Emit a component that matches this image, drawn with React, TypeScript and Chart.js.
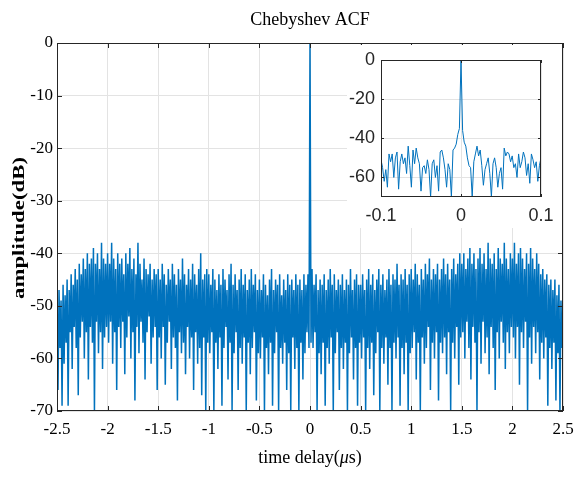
import React, { useEffect, useRef } from "react";
import { Chart, registerables } from "chart.js";
Chart.register(...registerables);

// ---------- texts ----------
const titleText = "Chebyshev ACF";
const xLabelParts = [
  { t: "time delay(", italic: false },
  { t: "\u03bc", italic: true },
  { t: "s)", italic: false },
];
const yLabelText = "amplitude(dB)";

// ---------- ticks ----------
const xTicks = [-2.5, -2, -1.5, -1, -0.5, 0, 0.5, 1, 1.5, 2, 2.5];
const yTicks = [0, -10, -20, -30, -40, -50, -60, -70];
const insetXTicks = [-0.1, 0, 0.1];
const insetYTicks = [0, -20, -40, -60];

// ---------- main series (dB), 0.01 us spacing, each segment 0.5 us ----------
const segStarts = [-2.5, -2.0, -1.5, -1.0, -0.5, 0.0, 0.5, 1.0, 1.5, 2.0];
const segStep = 0.01;
const ampM25 = [-52,-66,-47,-58,-49,-69,-46,-61,-48,-57,-45,-69,-47,-55,-44,-62,-46,-54,-43,-58,-45,-67,-42,-56,-44,
  -53,-41,-60,-43,-55,-40,-64,-42,-54,-41,-57,-39,-70,-42,-53,-40,-59,-43,-55,-38,-62,-41,-56,-42,-54];
const ampM20 = [-40,-57,-42,-53,-38,-61,-41,-55,-43,-66,-40,-54,-42,-58,-41,-53,-44,-63,-40,-56,-42,-52,-39,-60,-43,
  -55,-41,-68,-44,-54,-38,-59,-42,-53,-45,-57,-41,-64,-43,-55,-44,-52,-42,-61,-45,-56,-43,-54,-44,-66];
const ampM15 = [-43,-56,-45,-60,-42,-54,-44,-65,-46,-57,-43,-53,-45,-62,-42,-56,-44,-58,-46,-68,-43,-55,-45,-59,-41,
  -57,-44,-63,-46,-54,-43,-60,-45,-56,-42,-66,-44,-55,-46,-61,-43,-58,-40,-67,-45,-56,-44,-70,-43,-57];
const ampM10 = [-44,-59,-46,-55,-43,-70,-45,-57,-47,-62,-44,-56,-46,-69,-43,-58,-45,-54,-47,-64,-44,-57,-42,-70,-46,
  -59,-44,-55,-47,-66,-45,-58,-43,-61,-46,-56,-44,-70,-47,-57,-45,-63,-43,-58,-46,-55,-44,-68,-47,-59];
const ampM05 = [-45,-60,-47,-56,-44,-70,-46,-58,-48,-63,-45,-57,-43,-69,-47,-59,-45,-55,-46,-70,-44,-58,-48,-61,-45,
  -57,-47,-66,-44,-59,-46,-70,-45,-56,-47,-62,-44,-58,-46,-70,-45,-57,-47,-64,-44,-59,-46,-55,-44,-58];
const ampP00 = [0,-57,-43,-58,-46,-55,-44,-70,-47,-59,-45,-63,-46,-57,-44,-69,-47,-58,-45,-61,-43,-56,-46,-70,-44,
  -59,-47,-55,-45,-66,-46,-58,-44,-62,-47,-57,-45,-70,-46,-59,-43,-56,-47,-64,-45,-58,-44,-69,-46,-57];
const ampP05 = [-46,-60,-44,-56,-47,-70,-45,-58,-43,-62,-46,-57,-44,-67,-47,-59,-45,-55,-43,-70,-46,-58,-44,-61,-47,
  -56,-45,-65,-43,-58,-46,-70,-44,-57,-45,-60,-42,-56,-46,-69,-44,-58,-45,-63,-43,-57,-46,-70,-44,-59];
const ampP10 = [-43,-58,-45,-55,-42,-64,-44,-57,-46,-70,-43,-56,-45,-61,-42,-58,-44,-54,-41,-66,-45,-57,-43,-60,-44,
  -55,-42,-68,-45,-57,-43,-59,-41,-56,-44,-63,-42,-55,-45,-70,-43,-57,-41,-60,-44,-54,-42,-65,-40,-56];
const ampP15 = [-42,-55,-40,-60,-43,-53,-41,-58,-39,-64,-42,-54,-40,-57,-43,-70,-41,-55,-39,-61,-42,-53,-40,-59,-43,
  -56,-38,-63,-41,-54,-42,-58,-40,-66,-43,-55,-39,-60,-41,-53,-42,-57,-38,-62,-41,-55,-43,-59,-40,-54];
const ampP20 = [-41,-56,-38,-60,-42,-54,-40,-65,-39,-55,-41,-58,-43,-53,-40,-70,-42,-56,-39,-61,-41,-54,-43,-59,-40,
  -55,-42,-64,-44,-57,-43,-60,-45,-56,-44,-69,-46,-58,-45,-62,-47,-57,-45,-68,-48,-59,-46,-70,-49,-58,-52];
const mainSegments = [ampM25, ampM20, ampM15, ampM10, ampM05, ampP00, ampP05, ampP10, ampP15, ampP20];

// ---------- inset series (dB), 0.002 us spacing ----------
const insetStep = 0.002;
const insetLeft = [-51,-55,-62,-56,-65,-48,-52,-48,-60,-50,-47,-66,-52,-48,-53,-50,-58,-44,-54,-65,
  -46,-53,-45,-50,-53,-67,-55,-54,-58,-51,-56,-70,-53,-51,-60,-54,-67,-47,-46,-50,
  -56,-65,-53,-56,-70,-46,-45,-43,-38,-35]; // t = -0.100 .. -0.002
const insetPeak = [0]; // t = 0
const insetRight = [-36,-42,-44,-50,-54,-55,-70,-52,-48,-44,-49,-46,-54,-64,-56,-53,-50,-58,-70,-53,
  -50,-55,-65,-58,-55,-66,-45,-49,-47,-48,-52,-49,-55,-53,-60,-48,-55,-52,-47,-50,
  -59,-53,-63,-48,-51,-55,-52,-62,-54,-50]; // t = 0.002 .. 0.100

const LINE = "#0072BD";
const AXIS = "#262626";
const GRID = "#e3e3e3";
const SERIF = "'Liberation Serif', 'DejaVu Serif', serif";
const SANS = "'Liberation Sans', Arial, sans-serif";

function buildMain() {
  const pts: { x: number; y: number }[] = [];
  mainSegments.forEach((seg, k) => {
    seg.forEach((v, i) => pts.push({ x: +(segStarts[k] + i * segStep).toFixed(4), y: v }));
  });
  return pts;
}
function buildInset() {
  const pts: { x: number; y: number }[] = [];
  insetLeft.forEach((v, i) => pts.push({ x: -0.1 + i * insetStep, y: v }));
  insetPeak.forEach((v) => pts.push({ x: 0, y: v }));
  insetRight.forEach((v, i) => pts.push({ x: (i + 1) * insetStep, y: v }));
  return pts;
}

const framePlugin = {
  id: "frame",
  afterDraw(chart: any, _args: any, opts: any) {
    const { ctx, chartArea: a, scales } = chart;
    ctx.save();
    ctx.strokeStyle = AXIS;
    ctx.lineWidth = 1;
    const L = opts.len || 0;
    if (L > 0) {
      ctx.beginPath();
      for (const v of opts.xt) {
        const px = Math.round(scales.x.getPixelForValue(v)) + 0.5;
        ctx.moveTo(px, a.bottom);
        ctx.lineTo(px, a.bottom - L);
        ctx.moveTo(px, a.top);
        ctx.lineTo(px, a.top + L);
      }
      for (const v of opts.yt) {
        const py = Math.round(scales.y.getPixelForValue(v)) + 0.5;
        ctx.moveTo(a.left, py);
        ctx.lineTo(a.left + L, py);
        ctx.moveTo(a.right, py);
        ctx.lineTo(a.right - L, py);
      }
      ctx.stroke();
    }
    ctx.strokeRect(Math.round(a.left) + 0.5, Math.round(a.top) + 0.5, Math.round(a.right - a.left) - 1, Math.round(a.bottom - a.top) - 1);
    if (opts.texts) {
      ctx.fillStyle = "#000";
      ctx.textBaseline = "middle";
      const cx = (a.left + a.right) / 2;
      ctx.textAlign = "center";
      ctx.font = `18px ${SERIF}`;
      ctx.fillText(titleText, cx, 20);
      ctx.textAlign = "left";
      const fonts = xLabelParts.map((p) => (p.italic ? `italic 18px ${SERIF}` : `18px ${SERIF}`));
      const widths = xLabelParts.map((p, i) => { ctx.font = fonts[i]; return ctx.measureText(p.t).width; });
      const total = widths.reduce((s, w) => s + w, 0);
      let x = cx - total / 2;
      xLabelParts.forEach((p, i) => { ctx.font = fonts[i]; ctx.fillText(p.t, x, 458); x += widths[i]; });
      ctx.save();
      ctx.translate(20, (a.top + a.bottom) / 2 + 1);
      ctx.rotate(-Math.PI / 2);
      ctx.font = `bold 17px ${SERIF}`;
      ctx.textAlign = "center";
      const w = ctx.measureText(yLabelText).width;
      ctx.scale(142 / w, 1);
      ctx.fillText(yLabelText, 0, 0);
      ctx.restore();
    }
    ctx.restore();
  },
};

const noPadX = (h: number) => (s: any) => { s.height = h; s.paddingLeft = 0; s.paddingRight = 0; s.paddingTop = 0; s.paddingBottom = 0; };
const noPadY = (w: number) => (s: any) => { s.width = w; s.paddingLeft = 0; s.paddingRight = 0; s.paddingTop = 0; s.paddingBottom = 0; };

export default function App() {
  const mainRef = useRef<HTMLCanvasElement>(null);
  const insetRef = useRef<HTMLCanvasElement>(null);

  useEffect(() => {
    const main = new Chart(mainRef.current!, {
      type: "line",
      data: {
        datasets: [
          { data: buildMain(), borderColor: LINE, borderWidth: 1.5, pointRadius: 0, tension: 0, fill: false },
        ],
      },
      options: {
        animation: false,
        responsive: false,
        devicePixelRatio: 1,
        parsing: false,
        normalized: true,
        events: [],
        layout: { autoPadding: false, padding: { top: 43, right: 12, left: 0, bottom: 0 } },
        plugins: {
          legend: { display: false },
          tooltip: { enabled: false },
          title: { display: false },
          frame: { len: 5, xt: xTicks, yt: yTicks, texts: true },
        } as any,
        scales: {
          x: {
            type: "linear",
            min: -2.5,
            max: 2.5,
            afterBuildTicks: (ax: any) => { ax.ticks = xTicks.map((v) => ({ value: v })); },
            afterFit: noPadX(68),
            grid: { color: GRID, drawTicks: false, lineWidth: 1 },
            border: { display: false },
            ticks: { color: "#000", font: { family: SERIF, size: 17 }, padding: 8, maxRotation: 0, autoSkip: false, callback: (v: any) => String(v) },
          },
          y: {
            type: "linear",
            min: -70,
            max: 0,
            afterBuildTicks: (ax: any) => { ax.ticks = yTicks.map((v) => ({ value: v })); },
            afterFit: noPadY(57),
            grid: { color: GRID, drawTicks: false, lineWidth: 1 },
            border: { display: false },
            ticks: { color: "#000", font: { family: SERIF, size: 17 }, padding: 4, autoSkip: false, callback: (v: any) => String(v) },
          },
        },
      },
      plugins: [framePlugin],
    });

    const inset = new Chart(insetRef.current!, {
      type: "line",
      data: {
        datasets: [
          { data: buildInset(), borderColor: LINE, borderWidth: 1, pointRadius: 0, tension: 0, fill: false },
        ],
      },
      options: {
        animation: false,
        responsive: false,
        devicePixelRatio: 1,
        parsing: false,
        events: [],
        layout: { autoPadding: false, padding: { top: 15, right: 21, left: 0, bottom: 0 } },
        plugins: {
          legend: { display: false },
          tooltip: { enabled: false },
          title: { display: false },
          frame: { len: 3, xt: insetXTicks, yt: insetYTicks, texts: false },
        } as any,
        scales: {
          x: {
            type: "linear",
            min: -0.1,
            max: 0.1,
            afterBuildTicks: (ax: any) => { ax.ticks = insetXTicks.map((v) => ({ value: v })); },
            afterFit: noPadX(31),
            grid: { color: GRID, drawTicks: false, lineWidth: 1 },
            border: { display: false },
            ticks: { color: "#262626", font: { family: SANS, size: 18 }, padding: 8, maxRotation: 0, autoSkip: false, callback: (v: any) => String(v) },
          },
          y: {
            type: "linear",
            min: -70,
            max: 0,
            afterBuildTicks: (ax: any) => { ax.ticks = insetYTicks.map((v) => ({ value: v })); },
            afterFit: noPadY(34),
            grid: { color: GRID, drawTicks: false, lineWidth: 1 },
            border: { display: false },
            ticks: { color: "#262626", font: { family: SANS, size: 18 }, padding: 6, autoSkip: false, callback: (v: any) => String(v) },
          },
        },
      },
      plugins: [framePlugin],
    });

    return () => {
      main.destroy();
      inset.destroy();
    };
  }, []);

  return (
    <div style={{ position: "fixed", left: 0, top: 0, width: 575, height: 479, background: "#fff" }}>
      <canvas ref={mainRef} width={575} height={479} style={{ position: "absolute", left: 0, top: 0, width: 575, height: 479 }} />
      <canvas ref={insetRef} width={215} height={183} style={{ position: "absolute", left: 347, top: 45, width: 215, height: 183, background: "#fff" }} />
    </div>
  );
}
